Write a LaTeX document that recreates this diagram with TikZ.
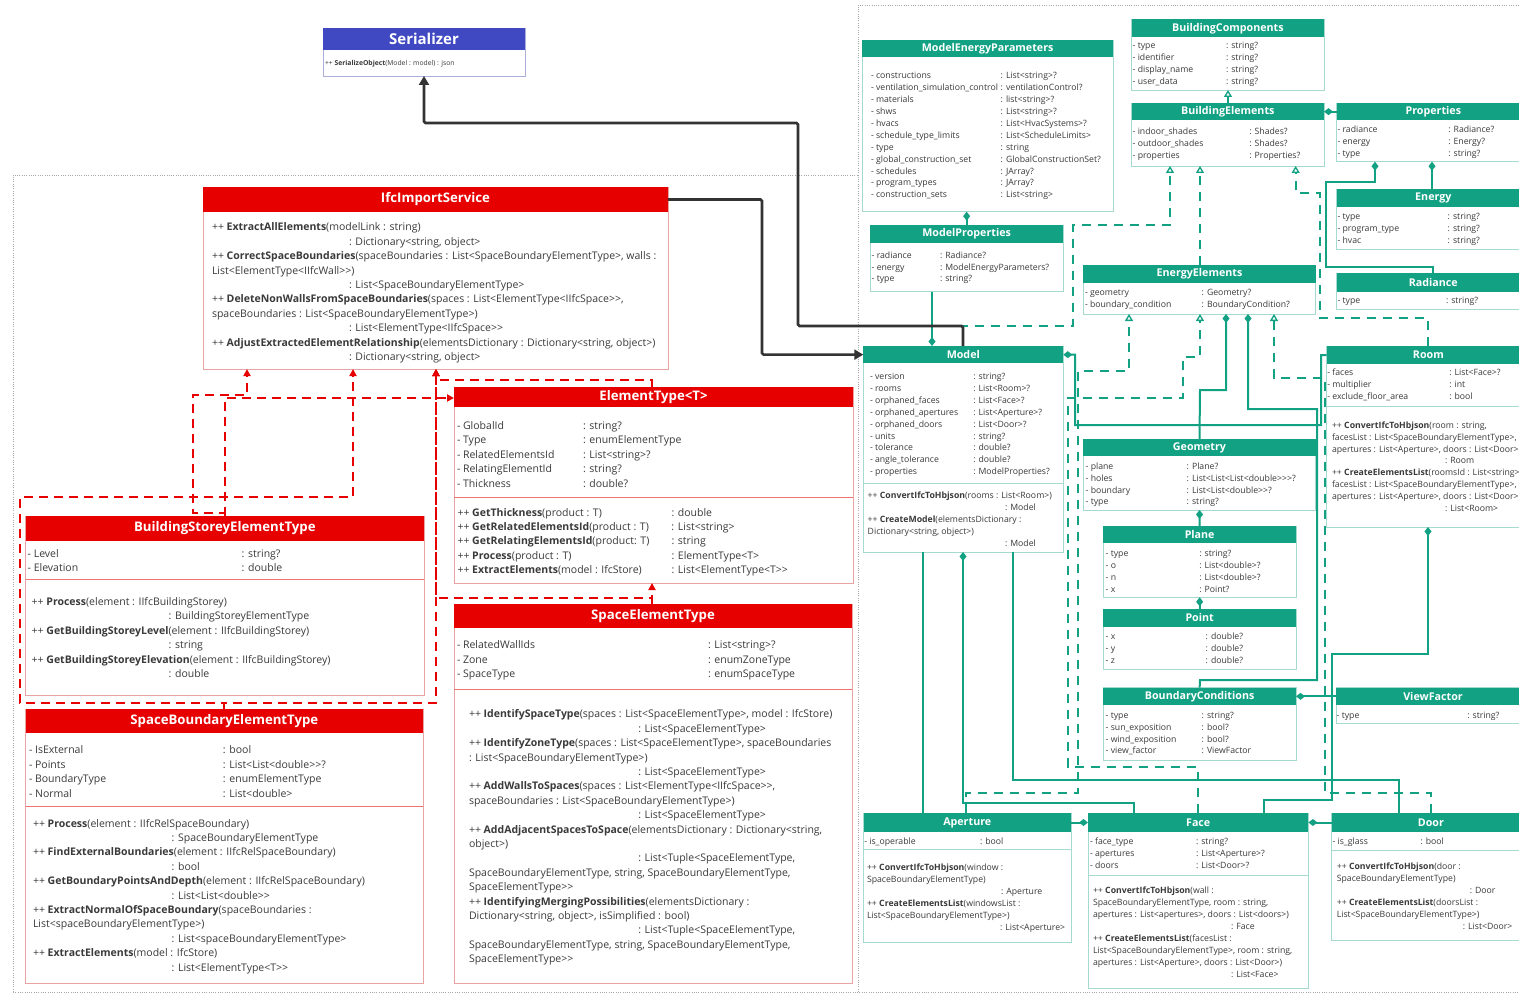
\documentclass[tikz,border=0pt]{standalone}
\usepackage{fontspec}
\setmainfont{Open Sans}[Ligatures=TeXOff]
\usetikzlibrary{arrows.meta}

\definecolor{redh}{HTML}{E60000}
\definecolor{redb}{HTML}{E9A3A3}
\definecolor{tealh}{HTML}{12A183}
\definecolor{tealb}{HTML}{A6DACF}
\definecolor{blueh}{HTML}{4049C2}
\definecolor{blueb}{HTML}{ABAEDA}
\definecolor{ink}{HTML}{3A3A3A}
\definecolor{wire}{HTML}{333333}
\definecolor{framec}{HTML}{A8A8A8}

\tikzset{
  redbox/.style={draw=redb, line width=0.9pt, fill=white, inner sep=0, outer sep=0, anchor=north west},
  redhead/.style={fill=redh, text=white, inner sep=0, outer sep=0, anchor=north west,
    font=\fontsize{13.2}{15}\selectfont\bfseries},
  redsep/.style={draw=redb!70!red, line width=0.9pt},
  tealbox/.style={draw=tealb, line width=0.9pt, fill=white, inner sep=0, outer sep=0, anchor=north west},
  tealhead/.style={fill=tealh, text=white, inner sep=0, outer sep=0, anchor=north west,
    font=\fontsize{10.7}{12}\selectfont\bfseries},
  tealsep/.style={draw=tealb, line width=0.9pt},
  bluebox/.style={draw=blueb, line width=0.9pt, fill=white, inner sep=0, outer sep=0, anchor=north west},
  bluehead/.style={fill=blueh, text=white, inner sep=0, outer sep=0, anchor=north west,
    font=\fontsize{15}{17}\selectfont\bfseries},
  bluesep/.style={draw=blueb, line width=0.9pt},
  ltxt/.style={anchor=base west, inner sep=0, outer sep=0, text=ink, font=\fontsize{10.5}{14.4}\selectfont},
  rtxt/.style={anchor=base west, inner sep=0, outer sep=0, text=ink, font=\fontsize{8.7}{11.9}\selectfont},
  stxt/.style={anchor=base west, inner sep=0, outer sep=0, text=ink, font=\fontsize{6.8}{8}\selectfont},
  darkwire/.style={draw=wire, line width=2.6pt, rounded corners=1.5pt, -{Triangle[length=9pt,width=10pt]}},
  redwire/.style={draw=redh, line width=2.3pt, dash pattern=on 9pt off 6pt, -{Triangle[length=7pt,width=7pt]}},
  tline/.style={draw=tealh, line width=2pt},
  tdash/.style={draw=tealh, line width=2pt, dash pattern=on 9pt off 7pt},
  owns/.style={arrows={Diamond[length=9pt,width=7pt]-}},
  real/.style={arrows={-Triangle[fill=white,line width=1.3pt,length=7pt,width=8pt]}},
  frm/.style={draw=framec, line width=0.7pt, dash pattern=on 1pt off 1.3pt},
}

% class box: name, x1, y1, x2, y2, header bottom, title, kind
\newcommand\cls[8]{%
  \node[#8box, minimum width={(#4-#2)*1pt}, minimum height={(#5-#3)*1pt}] (#1) at (#2,#3) {};
  \node[#8head, minimum width={(#4-#2)*1pt}, minimum height={(#6-#3)*1pt}] (#1-h) at (#2,#3) {#7};}
% compartment divider: box name, y, kind
\newcommand\divider[3]{\draw[#3sep] (#1.west |- 0,#2) -- (#1.east |- 0,#2);}
% text block: name, x, first baseline, style, rows
\newcommand\txt[5]{\node[#4] (#1) at (#2,#3) {\begin{tabular}[t]{@{}l@{}}#5\end{tabular}};}
\newcommand\cl[2]{\makebox[#1pt][l]{#2}}
\newcommand\ind[1]{\hspace*{#1pt}}

\begin{document}
\begin{tikzpicture}[x=1pt,y=-1pt]
\useasboundingbox (0,0) rectangle (1519,995);
\fill[white] (0,0) rectangle (1519,995);

% package frames
\draw[frm] (13,992) -- (13,175) -- (858,175);
\draw[frm] (858,992) -- (858,5) -- (1519,5);
\draw[frm] (13,992) -- (1519,992);

% ---------------- import side ----------------
\cls{ser}{323}{28}{525}{76}{50}{Serializer}{blue}
\txt{ser-ops}{325}{65.5}{stxt}{++ \textbf{SerializeObject}(Model : model) : json}

\cls{ifc}{203}{187}{668}{369}{212}{IfcImportService}{red}
\txt{ifc-ops}{212}{231}{ltxt}{%
++ \textbf{ExtractAllElements}(modelLink : string)\\
\ind{137}: Dictionary<string, object>\\
++ \textbf{CorrectSpaceBoundaries}(spaceBoundaries : List<SpaceBoundaryElementType>, walls :\\
List<ElementType<IIfcWall>>)\\
\ind{137}: List<SpaceBoundaryElementType>\\
++ \textbf{DeleteNonWallsFromSpaceBoundaries}(spaces : List<ElementType<IIfcSpace>>,\\
spaceBoundaries : List<SpaceBoundaryElementType>)\\
\ind{137}: List<ElementType<IIfcSpace>>\\
++ \textbf{AdjustExtractedElementRelationship}(elementsDictionary : Dictionary<string, object>)\\
\ind{137}: Dictionary<string, object>}

\cls{et}{454}{387}{853}{583}{407}{ElementType<T>}{red}
\divider{et}{497}{red}
\txt{et-attr}{457}{429.5}{ltxt}{%
\cl{126}{- GlobalId}: string?\\
\cl{126}{- Type}: enumElementType\\
\cl{126}{- RelatedElementsId}: List<string>?\\
\cl{126}{- RelatingElementId}: string?\\
\cl{126}{- Thickness}: double?}
\txt{et-ops}{457.5}{516}{ltxt}{%
\cl{214}{++ \textbf{GetThickness}(product : T)}: double\\
\cl{214}{++ \textbf{GetRelatedElementsId}(product : T)}: List<string>\\
\cl{214}{++ \textbf{GetRelatingElementsId}(product: T)}: string\\
\cl{214}{++ \textbf{Process}(product : T)}: ElementType<T>\\
\cl{214}{++ \textbf{ExtractElements}(model : IfcStore)}: List<ElementType<T>>}

\cls{bset}{25.7}{516}{424}{695}{540.7}{BuildingStoreyElementType}{red}
\divider{bset}{579.3}{red}
\txt{bset-attr}{27.7}{557}{ltxt}{%
\cl{214}{- Level}: string?\\
\cl{214}{- Elevation}: double}
\txt{bset-ops}{31.7}{605.5}{ltxt}{%
++ \textbf{Process}(element : IIfcBuildingStorey)\\
\ind{137}: BuildingStoreyElementType\\
++ \textbf{GetBuildingStoreyLevel}(element : IIfcBuildingStorey)\\
\ind{137}: string\\
++ \textbf{GetBuildingStoreyElevation}(element : IIfcBuildingStorey)\\
\ind{137}: double}

\cls{sbet}{25.7}{709}{423}{983}{733}{SpaceBoundaryElementType}{red}
\divider{sbet}{806.7}{red}
\txt{sbet-attr}{29}{753.8}{ltxt}{%
\cl{194}{- IsExternal}: bool\\
\cl{194}{- Points}: List<List<double>>?\\
\cl{194}{- BoundaryType}: enumElementType\\
\cl{194}{- Normal}: List<double>}
\txt{sbet-ops}{33}{827}{ltxt}{%
++ \textbf{Process}(element : IIfcRelSpaceBoundary)\\
\ind{138.7}: SpaceBoundaryElementType\\
++ \textbf{FindExternalBoundaries}(element : IIfcRelSpaceBoundary)\\
\ind{138.7}: bool\\
++ \textbf{GetBoundaryPointsAndDepth}(element : IIfcRelSpaceBoundary)\\
\ind{138.7}: List<List<double>>\\
++ \textbf{ExtractNormalOfSpaceBoundary}(spaceBoundaries :\\
List<spaceBoundaryElementType>)\\
\ind{138.7}: List<spaceBoundaryElementType>\\
++ \textbf{ExtractElements}(model : IfcStore)\\
\ind{138.7}: List<ElementType<T>>}

\cls{set}{454}{604}{852}{983}{628.3}{SpaceElementType}{red}
\divider{set}{689.3}{red}
\txt{set-attr}{457}{648.8}{ltxt}{%
\cl{251}{- RelatedWallIds}: List<string>?\\
\cl{251}{- Zone}: enumZoneType\\
\cl{251}{- SpaceType}: enumSpaceType}
\txt{set-ops}{469}{717.8}{ltxt}{%
++ \textbf{IdentifySpaceType}(spaces : List<SpaceElementType>, model : IfcStore)\\
\ind{169.3}: List<SpaceElementType>\\
++ \textbf{IdentifyZoneType}(spaces : List<SpaceElementType>, spaceBoundaries\\
: List<SpaceBoundaryElementType>)\\
\ind{169.3}: List<SpaceElementType>\\
++ \textbf{AddWallsToSpaces}(spaces : List<ElementType<IIfcSpace>>,\\
spaceBoundaries : List<SpaceBoundaryElementType>)\\
\ind{169.3}: List<SpaceElementType>\\
++ \textbf{AddAdjacentSpacesToSpace}(elementsDictionary : Dictionary<string,\\
object>)\\
\ind{169.3}: List<Tuple<SpaceElementType,\\
SpaceBoundaryElementType, string, SpaceBoundaryElementType,\\
SpaceElementType>>\\
++ \textbf{IdentifyingMergingPossibilities}(elementsDictionary :\\
Dictionary<string, object>, isSimplified : bool)\\
\ind{169.3}: List<Tuple<SpaceElementType,\\
SpaceBoundaryElementType, string, SpaceBoundaryElementType,\\
SpaceElementType>>}

% ---------------- honeybee model side ----------------
\cls{mep}{862.3}{40}{1113}{211.7}{56.7}{ModelEnergyParameters}{teal}
\txt{mep-attr}{871}{78.9}{rtxt}{%
\cl{129.7}{- constructions}: List<string>?\\
\cl{129.7}{- ventilation\_simulation\_control}: ventilationControl?\\
\cl{129.7}{- materials}: list<string>?\\
\cl{129.7}{- shws}: List<string>?\\
\cl{129.7}{- hvacs}: List<HvacSystems>?\\
\cl{129.7}{- schedule\_type\_limits}: List<ScheduleLimits>\\
\cl{129.7}{- type}: string\\
\cl{129.7}{- global\_construction\_set}: GlobalConstructionSet?\\
\cl{129.7}{- schedules}: JArray?\\
\cl{129.7}{- program\_types}: JArray?\\
\cl{129.7}{- construction\_sets}: List<string>}

\cls{mp}{870}{225}{1063.3}{291.7}{243.3}{ModelProperties}{teal}
\txt{mp-attr}{871.7}{258.2}{rtxt}{%
\cl{68.3}{- radiance}: Radiance?\\
\cl{68.3}{- energy}: ModelEnergyParameters?\\
\cl{68.3}{- type}: string?}

\cls{model}{863.3}{346}{1063.3}{552}{363.3}{Model}{teal}
\divider{model}{483.3}{teal}
\txt{model-attr}{870}{379.5}{rtxt}{%
\cl{103.3}{- version}: string?\\
\cl{103.3}{- rooms}: List<Room>?\\
\cl{103.3}{- orphaned\_faces}: List<Face>?\\
\cl{103.3}{- orphaned\_apertures}: List<Aperture>?\\
\cl{103.3}{- orphaned\_doors}: List<Door>?\\
\cl{103.3}{- units}: string?\\
\cl{103.3}{- tolerance}: double?\\
\cl{103.3}{- angle\_tolerance}: double?\\
\cl{103.3}{- properties}: ModelProperties?}
\txt{model-ops}{867.7}{498.9}{rtxt}{%
++ \textbf{ConvertIfcToHbjson}(rooms : List<Room>)\\
\ind{137.3}: Model\\
++ \textbf{CreateModel}(elementsDictionary :\\
Dictionary<string, object>)\\
\ind{137.3}: Model}

\cls{bcomp}{1131.7}{19.3}{1324}{90}{37.3}{BuildingComponents}{teal}
\txt{bcomp-attr}{1132.7}{48.9}{rtxt}{%
\cl{93.3}{- type}: string?\\
\cl{93.3}{- identifier}: string?\\
\cl{93.3}{- display\_name}: string?\\
\cl{93.3}{- user\_data}: string?}

\cls{bel}{1131.7}{103.3}{1324}{166}{120}{BuildingElements}{teal}
\txt{bel-attr}{1132.7}{134.9}{rtxt}{%
\cl{116.6}{- indoor\_shades}: Shades?\\
\cl{116.6}{- outdoor\_shades}: Shades?\\
\cl{116.6}{- properties}: Properties?}

\cls{props}{1336.7}{103.3}{1530}{161.7}{120}{Properties}{teal}
\txt{props-attr}{1337.5}{132.5}{rtxt}{%
\cl{110.8}{- radiance}: Radiance?\\
\cl{110.8}{- energy}: Energy?\\
\cl{110.8}{- type}: string?}

\cls{energy}{1336.7}{189.3}{1530}{249.3}{206.7}{Energy}{teal}
\txt{energy-attr}{1337.5}{219.9}{rtxt}{%
\cl{110.2}{- type}: string?\\
\cl{110.2}{- program\_type}: string?\\
\cl{110.2}{- hvac}: string?}

\cls{rad}{1336.7}{273.3}{1530}{309.3}{291.7}{Radiance}{teal}
\txt{rad-attr}{1337.5}{303.9}{rtxt}{\cl{108.5}{- type}: string?}

\cls{ee}{1083.3}{265}{1315.7}{314}{282.7}{EnergyElements}{teal}
\txt{ee-attr}{1085}{295.9}{rtxt}{%
\cl{116.7}{- geometry}: Geometry?\\
\cl{116.7}{- boundary\_condition}: BoundaryCondition?}

\cls{geom}{1083.3}{439}{1315.7}{510}{456}{Geometry}{teal}
\txt{geom-attr}{1085.7}{469.2}{rtxt}{%
\cl{101}{- plane}: Plane?\\
\cl{101}{- holes}: List<List<List<double>>>?\\
\cl{101}{- boundary}: List<List<double>>?\\
\cl{101}{- type}: string?}

\cls{plane}{1103.3}{526}{1296}{597.3}{543.3}{Plane}{teal}
\txt{plane-attr}{1105.7}{556.5}{rtxt}{%
\cl{93.6}{- type}: string?\\
\cl{93.6}{- o}: List<double>?\\
\cl{93.6}{- n}: List<double>?\\
\cl{93.6}{- x}: Point?}

\cls{point}{1103.3}{609}{1296}{669.3}{626.7}{Point}{teal}
\txt{point-attr}{1105.7}{639.9}{rtxt}{%
\cl{100}{- x}: double?\\
\cl{100}{- y}: double?\\
\cl{100}{- z}: double?}

\cls{bc}{1103.3}{687.7}{1296}{760}{705}{BoundaryConditions}{teal}
\txt{bc-attr}{1105.7}{718.2}{rtxt}{%
\cl{96}{- type}: string?\\
\cl{96}{- sun\_exposition}: bool?\\
\cl{96}{- wind\_exposition}: bool?\\
\cl{96}{- view\_factor}: ViewFactor}

\cls{vf}{1336}{687.7}{1530}{723.3}{705}{ViewFactor}{teal}
\txt{vf-attr}{1336.7}{718.2}{rtxt}{\cl{130.6}{- type}: string?}

\cls{room}{1326.7}{346}{1530}{527}{364}{Room}{teal}
\divider{room}{406.7}{teal}
\txt{room-attr}{1327.3}{375.5}{rtxt}{%
\cl{122}{- faces}: List<Face>?\\
\cl{122}{- multiplier}: int\\
\cl{122}{- exclude\_floor\_area}: bool}
\txt{room-ops}{1332}{428.2}{rtxt}{%
++ \textbf{ConvertIfcToHbjson}(room : string,\\
facesList : List<SpaceBoundaryElementType>,\\
apertures : List<Aperture>, doors : List<Door>)\\
\ind{113}: Room\\
++ \textbf{CreateElementsList}(roomsId : List<string>,\\
facesList : List<SpaceBoundaryElementType>,\\
apertures : List<Aperture>, doors : List<Door>)\\
\ind{113}: List<Room>}

\cls{ap}{863.5}{813.3}{1071}{942.7}{831.7}{Aperture}{teal}
\divider{ap}{849.3}{teal}
\txt{ap-attr}{864.3}{844.2}{rtxt}{\cl{115.7}{- is\_operable}: bool}
\txt{ap-ops}{867}{870.9}{rtxt}{%
++ \textbf{ConvertIfcToHbjson}(window :\\
SpaceBoundaryElementType)\\
\ind{134}: Aperture\\
++ \textbf{CreateElementsList}(windowsList :\\
List<SpaceBoundaryElementType>)\\
\ind{133}: List<Aperture>}

\cls{face}{1088}{813.3}{1308.4}{988.3}{831.7}{Face}{teal}
\divider{face}{875.7}{teal}
\txt{face-attr}{1090}{844.9}{rtxt}{%
\cl{106}{- face\_type}: string?\\
\cl{106}{- apertures}: List<Aperture>?\\
\cl{106}{- doors}: List<Door>?}
\txt{face-ops}{1093}{893.9}{rtxt}{%
++ \textbf{ConvertIfcToHbjson}(wall :\\
SpaceBoundaryElementType, room : string,\\
apertures : List<apertures>, doors : List<doors>)\\
\ind{138}: Face\\
++ \textbf{CreateElementsList}(facesList :\\
List<SpaceBoundaryElementType>, room : string,\\
apertures : List<Aperture>, doors : List<Door>)\\
\ind{138}: List<Face>}

\cls{door}{1331.7}{813.3}{1530}{940.7}{831.7}{Door}{teal}
\divider{door}{850}{teal}
\txt{door-attr}{1332.5}{844.2}{rtxt}{\cl{88}{- is\_glass}: bool}
\txt{door-ops}{1336.8}{869.9}{rtxt}{%
++ \textbf{ConvertIfcToHbjson}(door :\\
SpaceBoundaryElementType)\\
\ind{133}: Door\\
++ \textbf{CreateElementsList}(doorsList :\\
List<SpaceBoundaryElementType>)\\
\ind{126}: List<Door>}

% ---------------- dependencies among import types ----------------
\draw[redwire] (bset.north -| 225,0) -- (225,513) -- (193,513) -- (193,395) -- (247,395) -- (ifc.south -| 247,0);
\draw[redwire] (bset.north -| 225,0) -- (225,398) -- (et.west |- 0,398);
\draw[redwire] (sbet.north -| 224,0) -- (224,703) -- (20,703) -- (20,497) -- (353,497) -- (ifc.south -| 353,0);
\draw[redwire] (sbet.north -| 224,0) -- (224,703) -- (436,703) -- (ifc.south -| 436,0);
\draw[redwire] (et.north -| 652,0) -- (652,380) -- (436,380) -- (ifc.south -| 436,0);
\draw[redwire] (set.north -| 652,0) -- (652,598) -- (436,598) -- (ifc.south -| 436,0);
\draw[redwire] (set.north -| 652,0) -- (et.south -| 652,0);

% ---------------- realizations (dashed) ----------------
\draw[tdash, real] (ee.north -| 1200,0) -- (bel.south -| 1200,0);
\draw[tdash, real] (model.north -| 963,0) -- (963,326) -- (1073,326) -- (1073,225) -- (1170,225) -- (bel.south -| 1170,0);
\draw[tdash, real] (room.north -| 1428,0) -- (1428,318) -- (1320,318) -- (1320,192.7) -- (1295.7,192.7) -- (bel.south -| 1295.7,0);
\draw[tdash, real] (ap.north -| 966,0) -- (966,793) -- (1078,793) -- (1078,371) -- (1129,371) -- (ee.south -| 1129,0);
\draw[tdash, real] (face.north -| 1198,0) -- (1198,767) -- (1068,767) -- (1068,398) -- (1183,398) -- (1183,357) -- (1200,357) -- (ee.south -| 1200,0);
\draw[tdash, real] (door.north -| 1431,0) -- (1431,793) -- (1325,793) -- (1325,378) -- (1274,378) -- (ee.south -| 1274,0);
\draw[tline, real, line width=1.5pt] (bel.north -| 1228,0) -- (bcomp.south -| 1228,0);

% ---------------- compositions ----------------
\draw[tline, owns] (mp.north |- mep.south) -- (mp.north);
\draw[tline, owns] (model.north -| 932,0) -- (mp.south -| 932,0);
\draw[tline, owns] (model-h.east) -- (1075,354.7) -- (1075,425) -- (1321,425) -- (1321,355) -- (room-h.west);
\draw[tline, owns] (ee.south -| 1226,0) -- (1226,390) -- (1200,390) -- (geom.north);
\draw[tline, owns] (ee.south -| 1248,0) -- (1248,409) -- (1317,409) -- (1317,680) -- (1200,680) -- (bc.north);
\draw[tline, owns] (geom.south) -- (plane.north);
\draw[tline, owns] (plane.south) -- (point.north);
\draw[tline, owns] (bc-h.east) -- (vf-h.west);
\draw[tline, owns] (room.south -| 1428,0) -- (1428,654) -- (1332,654) -- (1332,800) -- (1264,800) -- (face.north -| 1264,0);
\draw[tline] (model.south -| 923,0) -- (ap.north -| 923,0);
\draw[tline, owns] (model.south -| 963,0) -- (963,803) -- (1134,803) -- (face.north -| 1134,0);
\draw[tline] (model.south -| 1013,0) -- (1013,780) -- (1399,780) -- (door.north -| 1399,0);
\draw[tline, owns] (face-h.west) -- (ap-h.east);
\draw[tline, owns] (face-h.east) -- (door-h.west);
\draw[tline, owns] (bel-h.east) -- (props-h.west);
\draw[tline, owns] (props.south -| 1432,0) -- (energy.north -| 1432,0);
\draw[tline, owns] (props.south -| 1375,0) -- (1375,181.7) -- (1325.7,181.7) -- (1325.7,266.7) -- (1433,266.7) -- (rad.north -| 1433,0);

% ---------------- service calls ----------------
\draw[darkwire] (ifc-h.east) -| (762,277) |- (model-h.west);
\draw[darkwire] (model.north -| 963,0) -- (963,326) -- (798,326) -- (798,123) -- (424,123) -- (ser.south);
\end{tikzpicture}
\end{document}
